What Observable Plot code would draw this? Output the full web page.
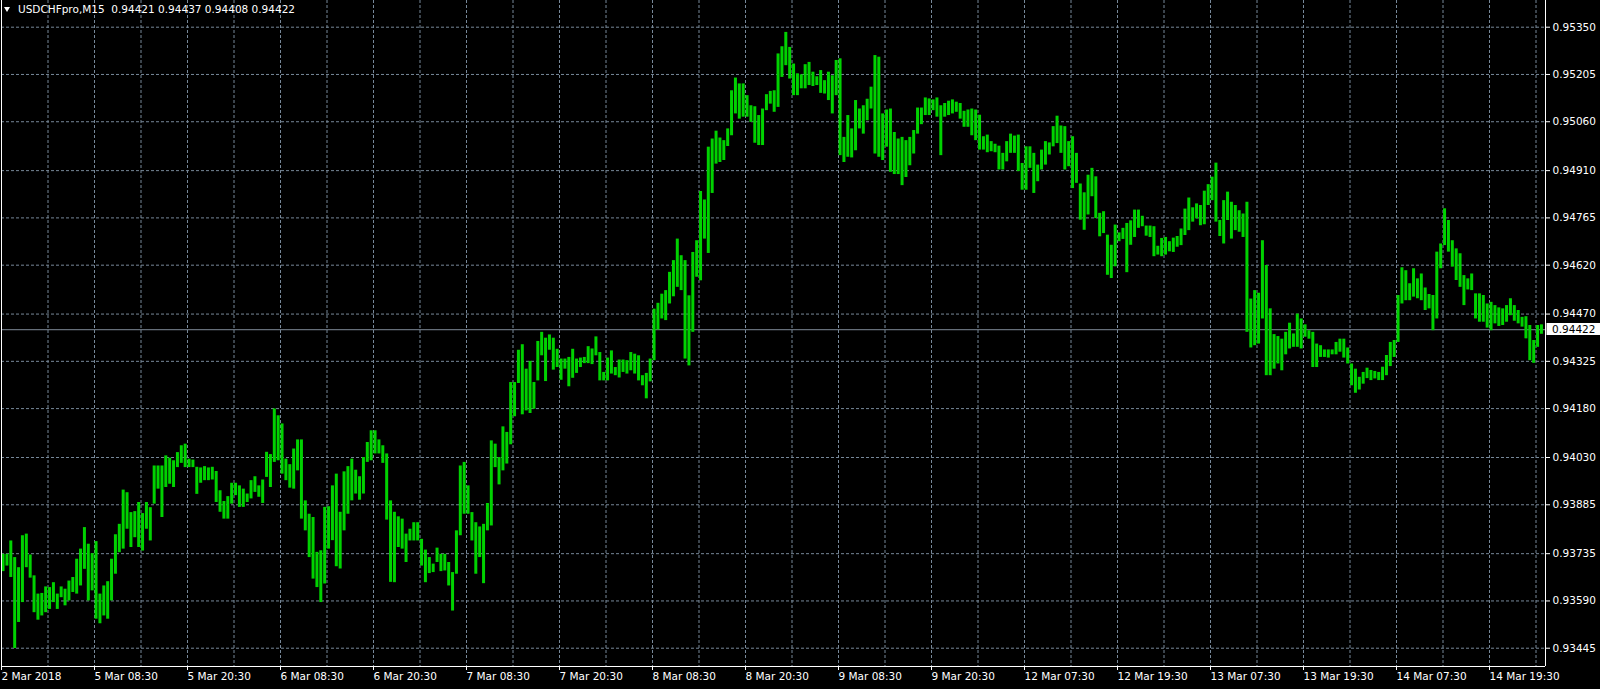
<!DOCTYPE html>
<html><head><meta charset="utf-8">
<script src="https://cdn.jsdelivr.net/npm/d3@7"></script>
<script src="https://cdn.jsdelivr.net/npm/@observablehq/plot@0.6"></script>
<style>
html,body{margin:0;padding:0;background:#000;}
#wrap{position:relative;width:1600px;height:689px;overflow:hidden;background:#000;}
#wrap svg{position:absolute;left:0;top:0;}
#tri{position:absolute;left:4px;top:7px;width:0;height:0;border-left:3.5px solid transparent;border-right:3.5px solid transparent;border-top:5px solid #fff;}
#title{position:absolute;left:18px;top:1px;color:#fff;font:10.5px "DejaVu Sans",sans-serif;white-space:pre;line-height:16px;}
</style></head><body><div id="wrap"></div>
<script>
// ---- data (M15 chart, sampled as 30-minute bars; prices in points above 0.93000) ----
const symbolTitle = "USDCHFpro,M15";
const lastBar = [0.94421, 0.94437, 0.94408, 0.94422]; // open, high, low, close
const basePrice = 0.93;
const point = 0.00001;

const highPts = [
  733,733,774,723,692,790,795,731,667,611,613,633,631,646,611,633,626,651,662,718,749,815,764,735,
  772,611,636,649,718,793,825,930,922,861,864,892,858,892,876,1004,1004,1004,1035,1028,1020,1045,1066,1071,
  1025,1022,1000,998,1002,998,1000,987,928,895,910,951,951,943,933,918,959,971,943,961,1046,1039,1179,1158,
  1133,1025,1008,1056,1084,1084,897,856,846,739,744,877,879,943,979,862,986,1002,1025,991,971,1030,1076,1112,
  1112,1084,1066,1041,897,862,848,841,795,810,830,830,779,746,723,703,752,733,733,708,677,805,1004,1015,
  943,861,830,817,825,889,1081,1071,1030,1124,1107,1260,1260,1359,1376,1301,1325,1260,1386,1414,1396,1406,1396,1362,
  1332,1332,1337,1362,1332,1335,1337,1370,1363,1400,1352,1291,1335,1357,1306,1329,1329,1327,1352,1347,1342,1281,1288,1332,
  1485,1503,1531,1542,1598,1634,1700,1649,1634,1526,1659,1695,1846,1820,1982,2007,2031,2010,2002,2038,2155,2194,2176,2176,
  2140,2109,2106,2079,2099,2143,2153,2155,2268,2290,2334,2288,2237,2207,2204,2235,2242,2212,2198,2217,2186,2212,2201,2248,
  2253,2012,2079,2038,2125,2099,2109,2129,2166,2263,2258,2084,2096,2099,2027,2007,2012,2002,2012,2033,2102,2102,2133,2130,
  2127,2133,2109,2116,2123,2127,2120,2116,2092,2096,2099,2096,2080,2014,2019,1999,1991,1985,1963,1999,2022,2016,2019,1932,
  1983,1983,1963,1927,1973,1999,1995,2045,2077,2047,2045,1999,2014,1963,1869,1842,1896,1917,1891,1779,1784,1712,1681,1743,
  1719,1733,1748,1756,1789,1789,1770,1740,1740,1738,1678,1702,1705,1692,1703,1708,1731,1792,1826,1796,1808,1803,1847,1867,
  1890,1933,1757,1818,1844,1813,1803,1787,1777,1813,1516,1542,1534,1695,1619,1486,1407,1401,1393,1414,1442,1409,1470,1455,
  1437,1419,1414,1378,1373,1360,1360,1360,1383,1393,1393,1366,1317,1301,1276,1291,1304,1297,1294,1291,1307,1343,1383,1389,
  1527,1612,1603,1563,1609,1578,1593,1550,1530,1527,1660,1685,1793,1757,1695,1670,1655,1588,1578,1593,1532,1532,1527,1501,
  1506,1496,1489,1486,1496,1517,1496,1481,1460,1462,1435,1389,1435,1437
];
const lowPts = [
  680,697,662,444,524,585,692,660,554,531,544,554,564,585,564,600,575,590,616,611,636,687,590,621,
  534,520,544,534,590,672,738,749,810,754,784,754,743,810,774,887,933,846,938,948,938,999,1012,999,
  999,999,917,951,959,959,961,892,862,841,841,887,913,877,877,892,903,923,908,889,969,938,1015,1020,
  979,959,936,933,989,841,805,723,657,631,585,642,749,775,695,688,805,856,897,918,899,918,1015,1020,
  1041,1041,1012,838,647,646,754,749,708,774,774,774,697,646,674,677,708,680,682,636,559,672,790,856,
  856,774,672,723,643,805,820,999,946,989,1010,1069,1155,1257,1161,1173,1165,1178,1265,1342,1263,1359,1298,1306,
  1267,1301,1247,1273,1288,1306,1318,1318,1315,1342,1265,1265,1265,1286,1281,1274,1291,1286,1296,1286,1265,1250,1210,1262,
  1327,1421,1455,1450,1501,1523,1552,1542,1332,1311,1414,1583,1572,1700,1656,1840,1930,1935,1941,1984,2017,2084,2068,2074,
  2074,2058,1994,1987,1987,2094,2114,2089,2104,2196,2232,2191,2140,2140,2161,2161,2171,2168,2171,2147,2145,2125,2084,2140,
  1956,1935,1951,1949,1971,2038,2022,2063,2099,1961,1951,1941,1982,1905,1898,1898,1864,1889,1925,1961,2022,2051,2079,2079,
  2094,2074,1956,2074,2079,2084,2089,2068,2043,2043,2017,2002,1973,1973,1965,1968,1965,1912,1912,1937,1963,1963,1907,1850,
  1850,1917,1840,1876,1912,1927,1958,1983,1993,1963,1912,1922,1855,1871,1758,1727,1774,1830,1763,1707,1717,1589,1579,1615,
  1692,1699,1597,1681,1705,1733,1738,1709,1705,1646,1651,1646,1651,1661,1659,1675,1680,1711,1726,1752,1762,1741,1744,1803,
  1818,1752,1708,1685,1757,1700,1726,1721,1705,1414,1366,1373,1378,1455,1281,1281,1301,1317,1296,1345,1363,1368,1368,1363,
  1399,1393,1306,1306,1337,1337,1335,1345,1345,1353,1335,1317,1250,1227,1237,1255,1272,1266,1271,1266,1266,1281,1309,1337,
  1383,1501,1511,1511,1522,1517,1511,1481,1486,1419,1455,1609,1680,1660,1614,1573,1552,1496,1544,1542,1455,1445,1445,1427,
  1419,1440,1432,1435,1445,1465,1448,1440,1430,1394,1327,1319,1368,1408
];

const priceTicks = [0.95350,0.95205,0.95060,0.94910,0.94765,0.94620,0.94470,0.94325,0.94180,0.94030,0.93885,0.93735,0.93590,0.93445];
const timeLabels = ["2 Mar 2018","5 Mar 08:30","5 Mar 20:30","6 Mar 08:30","6 Mar 20:30","7 Mar 08:30","7 Mar 20:30",
  "8 Mar 08:30","8 Mar 20:30","9 Mar 08:30","9 Mar 20:30","12 Mar 07:30","12 Mar 19:30","13 Mar 07:30",
  "13 Mar 19:30","14 Mar 07:30","14 Mar 19:30"];
const barsPerLabel = 24;   // 12 hours of 30-minute bars between labels
const barsPerGrid = 12;

// ---- build ----
const bars = highPts.map((h, i) => ({i, hi: basePrice + h * point, lo: basePrice + lowPts[i] * point}));
const labelIdx = timeLabels.map((_, k) => k * barsPerLabel);
const xMax = 398.45;
const gridIdx = d3.range(barsPerGrid, xMax, barsPerGrid);
const yDomain = [0.933889, 0.954319];
const lastPrice = lastBar[3];
const fmt = d3.format(".5f");
const FONT = "'DejaVu Sans', sans-serif";

function priceBox(index, scales, values, dimensions) {
  const y = Math.round(scales.y(lastPrice));
  const x0 = dimensions.width - dimensions.marginRight;
  const g = d3.create("svg:g");
  g.append("rect").attr("x", x0 + 1.5).attr("y", y - 6).attr("width", dimensions.marginRight).attr("height", 12).attr("fill", "#fff");
  g.append("text").attr("x", x0 + 7).attr("y", y).attr("dy", "0.36em").attr("fill", "#000")
    .attr("text-anchor", "start")
    .attr("font-family", FONT).attr("font-size", 10.5).text(fmt(lastPrice));
  return g.node();
}

const chart = Plot.plot({
  width: 1600, height: 689,
  marginLeft: 1, marginRight: 55, marginTop: 0, marginBottom: 23,
  style: {background: "#000", color: "#fff", fontFamily: FONT, fontSize: "10.5px"},
  x: {type: "linear", domain: [0, xMax], label: null},
  y: {type: "linear", domain: yDomain, label: null},
  marks: [
    Plot.ruleY(priceTicks, {stroke: "#778899", strokeDasharray: "3,2"}),
    Plot.ruleX(gridIdx, {stroke: "#778899", strokeDasharray: "3,2"}),
    Plot.ruleY([lastPrice], {stroke: "#7f8b98"}),
    Plot.ruleX(bars, {x: d => d.i + 0.4, y1: "lo", y2: "hi", stroke: "#00d200", strokeWidth: 3}),
    Plot.ruleX([0, xMax], {stroke: "#fff"}),
    Plot.ruleY([yDomain[0]], {stroke: "#fff"}),
    Plot.axisY(priceTicks, {anchor: "right", tickSize: 4, tickPadding: 3, tickFormat: fmt, label: null, stroke: "#fff", fill: "#fff"}),
    Plot.axisX(labelIdx, {anchor: "bottom", tickSize: 4, tickPadding: 2, tickFormat: (d, k) => timeLabels[k], textAnchor: "start", label: null, stroke: "#fff", fill: "#fff"}),
    priceBox
  ]
});

const wrap = document.getElementById("wrap");
wrap.appendChild(chart);
const tri = document.createElement("div"); tri.id = "tri"; wrap.appendChild(tri);
const title = document.createElement("div"); title.id = "title";
title.textContent = symbolTitle + "  " + lastBar.map(fmt).join(" ");
wrap.appendChild(title);
</script>
</body></html>
